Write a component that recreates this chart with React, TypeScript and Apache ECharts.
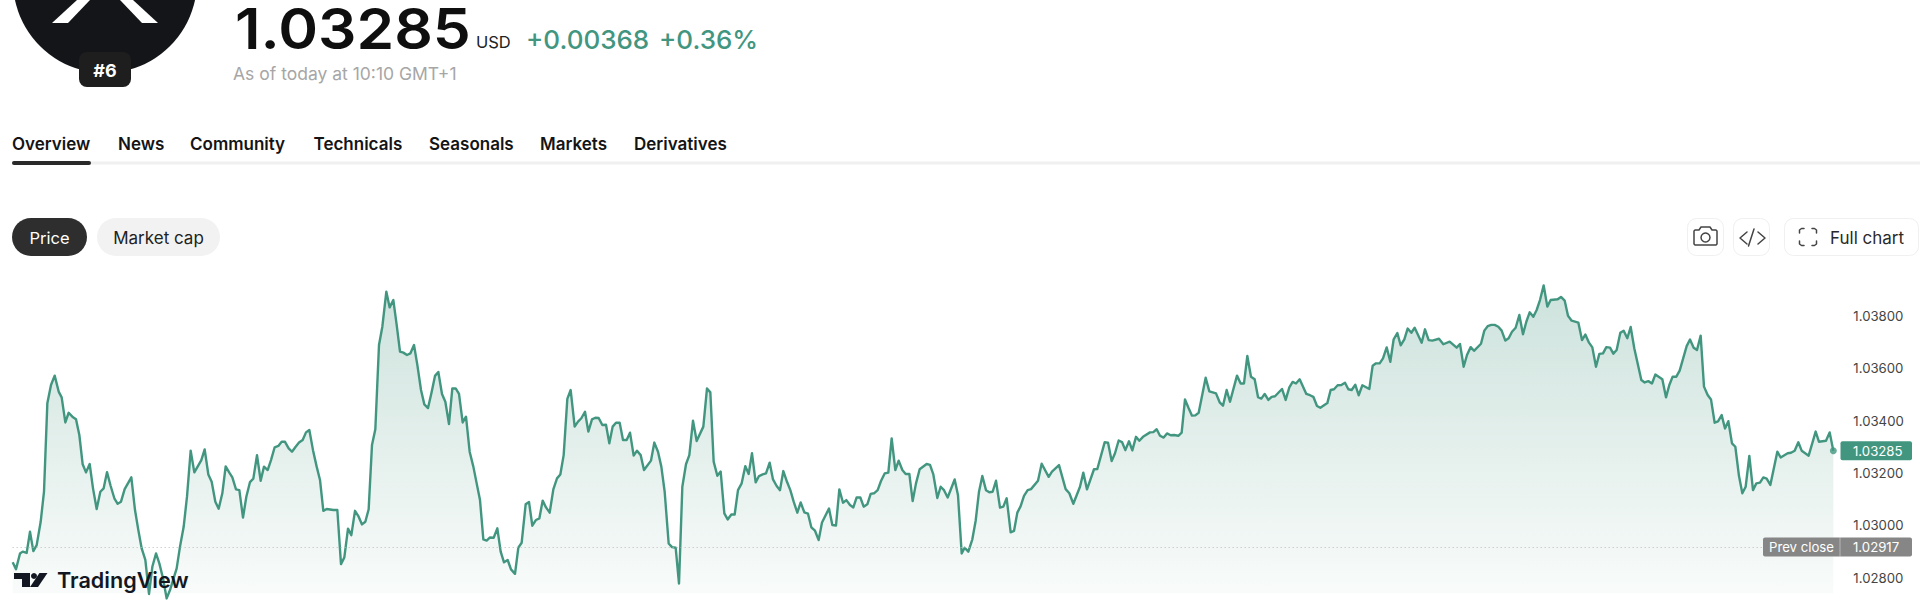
import React, { useEffect, useRef } from "react";
import * as echarts from "echarts";

const symbolRank = "#6";
const lastPrice = 1.03285;
const prevClose = 1.02917;
const currency = "USD";
const changeAbs = "+0.00368";
const changePct = "+0.36%";
const asOf = "As of today at 10:10 GMT+1";
const tabs = ["Overview", "News", "Community", "Technicals", "Seasonals", "Markets", "Derivatives"];
const yTicks = [1.028, 1.03, 1.032, 1.034, 1.036, 1.038];

type P = [number, number];
const segmentA: P[] = [[38,1.02858],[48,1.02832],[60,1.02892],[68,1.02899],[80,1.02894],[90,1.02975],[100,1.02901],[110,1.02924],[122,1.03013],[132,1.03128],[142,1.03466],[153,1.03536],[164,1.03572],[176,1.03511],[185,1.03489],[196,1.03393],[206,1.0343],[217,1.03415],[228,1.03405],[238,1.03345],[248,1.03233],[258,1.03202],[269,1.03234],[279,1.03141],[290,1.03062],[301,1.03128],[311,1.03141],[321,1.03203],[332,1.0315],[343,1.03103],[353,1.03082],[363,1.0309],[374,1.03138],[394,1.03183],[405,1.03058],[415,1.02981],[425,1.02911],[436,1.02867],[447,1.02737],[457,1.02841],[468,1.02892],[478,1.02854],[489,1.02797],[500,1.0272],[510,1.02752],[530,1.02835],[540,1.02918],[551,1.02994],[561,1.03109],[572,1.03285],[583,1.03202],[604,1.03249],[614,1.0329],[625,1.03194],[635,1.03166],[646,1.0309],[656,1.03063],[667,1.03122],[677,1.03225],[688,1.03201],[697,1.03183],[708,1.03137],[718,1.03134],[729,1.03029],[739,1.03109],[750,1.03165],[760,1.03178],[771,1.03268],[782,1.0317],[792,1.03224],[803,1.03211],[813,1.03249],[824,1.03298],[835,1.03303],[845,1.03319],[855,1.03319],[866,1.03294],[876,1.03281],[887,1.033],[897,1.03316],[908,1.03326],[918,1.03355],[928,1.03364],[939,1.03287],[950,1.03224],[960,1.03173],[970,1.03055],[980,1.03062],[1000,1.03058],[1012,1.03058],[1023,1.02851],[1033,1.02877],[1044,1.02987],[1054,1.02962],[1065,1.03055],[1075,1.03035],[1086,1.03003],[1096,1.03013],[1106,1.03061],[1116,1.03307],[1126,1.03367],[1137,1.03689],[1147,1.03759],[1159,1.03893],[1169,1.03833],[1180,1.03861],[1190,1.03766],[1200,1.03664],[1210,1.0366],[1221,1.03651],[1231,1.03657],[1242,1.03689],[1252,1.03613],[1263,1.03517],[1273,1.03462],[1284,1.03448],[1294,1.03504],[1305,1.03571],[1315,1.03586],[1326,1.03502],[1336,1.03472],[1347,1.03387],[1357,1.03523],[1367,1.03523],[1377,1.03502],[1388,1.03393],[1398,1.03415],[1409,1.03281],[1420,1.03224],[1430,1.0316],[1440,1.03096]];
const segmentB: P[] = [[1450,1.02946],[1460,1.02941],[1470,1.02953],[1481,1.02952],[1492,1.02988],[1502,1.02899],[1512,1.02858],[1523,1.02867],[1533,1.02831],[1545,1.02814],[1555,1.02914],[1565,1.02933],[1577,1.0308],[1587,1.03089],[1597,1.02998],[1608,1.0302],[1618,1.03026],[1628,1.03094],[1638,1.03068],[1649,1.03048],[1660,1.03137],[1671,1.03179],[1681,1.03194],[1691,1.03268],[1702,1.03483],[1712,1.03517],[1724,1.03377],[1734,1.03396],[1744,1.03409],[1755,1.03434],[1765,1.03358],[1776,1.03405],[1786,1.03411],[1796,1.0341],[1807,1.03383],[1818,1.03384],[1828,1.03313],[1838,1.03377],[1848,1.03392],[1859,1.03392],[1869,1.03326],[1880,1.03326],[1890,1.03354],[1901,1.03266],[1911,1.03285],[1922,1.03268],[1932,1.03211],[1953,1.03247],[1963,1.03316],[1974,1.03281],[1984,1.03224],[1994,1.03128],[2006,1.0293],[2016,1.02916],[2027,1.02914],[2037,1.02777],[2047,1.03147],[2058,1.03233],[2068,1.03268],[2079,1.034],[2090,1.03322],[2110,1.03377],[2121,1.03523],[2131,1.03508],[2141,1.03243],[2152,1.03189],[2162,1.03205],[2173,1.03045],[2183,1.03022],[2194,1.03041],[2204,1.03041],[2214,1.03134],[2225,1.0316],[2236,1.03226],[2246,1.03196],[2256,1.03275],[2267,1.03164],[2277,1.03188],[2288,1.03194],[2298,1.03198],[2309,1.03239],[2319,1.03175],[2330,1.0315],[2340,1.03134],[2350,1.03207],[2361,1.03166],[2371,1.03134],[2381,1.0309],[2392,1.03048],[2402,1.03087],[2413,1.03049],[2424,1.03044],[2434,1.02992],[2445,1.02979],[2456,1.02943],[2466,1.0301],[2487,1.03064],[2497,1.03001],[2508,1.02999],[2518,1.03137],[2529,1.03086],[2539,1.03096],[2550,1.03077],[2560,1.03068],[2570,1.03106],[2581,1.03106],[2591,1.03071],[2602,1.0308],[2612,1.0312],[2622,1.03122],[2633,1.03134],[2643,1.03169],[2654,1.03198],[2665,1.03201],[2675,1.03332],[2686,1.03211],[2696,1.03247],[2707,1.03211],[2717,1.03196],[2728,1.03196],[2738,1.03092],[2748,1.0316],[2759,1.03214],[2780,1.03234],[2790,1.03231],[2800,1.03194],[2812,1.03104],[2822,1.03147],[2832,1.03134],[2843,1.03106],[2864,1.03175],[2874,1.03115]];
const segmentC: P[] = [[2885,1.02892],[2894,1.02914],[2905,1.02899],[2917,1.02946],[2927,1.03017],[2937,1.03128],[2947,1.03188],[2958,1.03134],[2968,1.03126],[2978,1.03128],[2988,1.0317],[3000,1.03067],[3010,1.03071],[3020,1.03103],[3032,1.02973],[3042,1.02978],[3052,1.03048],[3062,1.03073],[3072,1.03112],[3083,1.03134],[3093,1.03138],[3114,1.0317],[3125,1.03235],[3146,1.03185],[3156,1.03205],[3177,1.0323],[3197,1.03138],[3208,1.03122],[3220,1.03082],[3240,1.03147],[3250,1.03201],[3261,1.03137],[3282,1.03214],[3292,1.03215],[3314,1.03317],[3324,1.03316],[3335,1.03245],[3345,1.03275],[3356,1.03324],[3366,1.03318],[3376,1.03287],[3387,1.03321],[3397,1.03286],[3408,1.03338],[3418,1.03323],[3429,1.03338],[3450,1.03355],[3460,1.03356],[3470,1.03367],[3480,1.03342],[3491,1.03335],[3501,1.03351],[3512,1.03344],[3522,1.03345],[3535,1.03342],[3545,1.03354],[3555,1.03481],[3566,1.03447],[3576,1.03419],[3586,1.0342],[3596,1.0343],[3617,1.03564],[3628,1.03512],[3648,1.03504],[3659,1.0347],[3669,1.03457],[3680,1.03517],[3690,1.03472],[3711,1.03572],[3722,1.03542],[3732,1.03542],[3742,1.03647],[3753,1.03568],[3764,1.03558],[3774,1.0349],[3784,1.03484],[3794,1.03502],[3805,1.03479],[3815,1.03491],[3825,1.03493],[3846,1.03521],[3857,1.03479],[3868,1.03527],[3878,1.03548],[3888,1.03542],[3899,1.03558],[3919,1.03502],[3930,1.03497],[3940,1.03491],[3951,1.03456],[3961,1.03449],[3982,1.03467],[3992,1.03517],[4002,1.0352],[4013,1.03535],[4024,1.03536],[4035,1.03545],[4045,1.0352],[4055,1.03517],[4066,1.03537],[4076,1.03497],[4087,1.03535],[4108,1.03521],[4118,1.0361],[4128,1.03619],[4139,1.03619],[4149,1.03638],[4160,1.0368],[4171,1.03625],[4181,1.03711],[4192,1.03735],[4202,1.03688],[4213,1.03711],[4223,1.03752],[4234,1.03736],[4244,1.03755],[4265,1.03698],[4275,1.03749],[4286,1.03708],[4297,1.03706],[4317,1.03713]];
const segmentD: P[] = [[4330,1.03692],[4349,1.03702],[4370,1.03679],[4380,1.03693],[4391,1.03606],[4401,1.03651],[4412,1.03681],[4422,1.03667],[4443,1.03694],[4453,1.03744],[4463,1.03761],[4474,1.03766],[4484,1.03766],[4495,1.03759],[4505,1.03744],[4516,1.03706],[4526,1.03715],[4536,1.0374],[4547,1.03755],[4558,1.03804],[4569,1.0373],[4579,1.03778],[4589,1.03814],[4600,1.03797],[4610,1.03823],[4620,1.03861],[4631,1.03917],[4642,1.03836],[4652,1.03861],[4673,1.03864],[4683,1.03873],[4694,1.03859],[4704,1.03801],[4715,1.03782],[4735,1.03775],[4746,1.03708],[4756,1.03729],[4767,1.03698],[4777,1.0368],[4788,1.03606],[4798,1.03655],[4809,1.03657],[4819,1.03681],[4830,1.03679],[4840,1.03656],[4850,1.0367],[4861,1.03736],[4871,1.03744],[4882,1.03715],[4892,1.03758],[4903,1.03676],[4924,1.03555],[4934,1.03546],[4945,1.03551],[4956,1.03542],[4966,1.03576],[4987,1.03558],[4998,1.03489],[5008,1.03536],[5018,1.03568],[5029,1.03568],[5039,1.03591],[5060,1.03685],[5070,1.0371],[5081,1.03679],[5091,1.0367],[5102,1.03725],[5112,1.0353],[5123,1.03498],[5133,1.03481],[5144,1.03392],[5154,1.03397],[5165,1.03421],[5175,1.0337],[5185,1.03398],[5196,1.03313],[5206,1.033],[5217,1.03188],[5227,1.03122],[5237,1.03147],[5248,1.03265],[5259,1.03134],[5269,1.0316],[5280,1.03163],[5290,1.03183],[5300,1.03178],[5311,1.03154],[5332,1.03281],[5342,1.03259],[5363,1.03275],[5373,1.03277],[5384,1.03285],[5395,1.03317],[5405,1.03285],[5426,1.03266],[5447,1.03358],[5457,1.03319],[5478,1.03323],[5489,1.03355],[5500,1.03285]];

const series: P[] = [...segmentA, ...segmentB, ...segmentC, ...segmentD];
const FONT = "Inter";
const GREEN = "#429680";

function txt(x: number, y: number, text: string, fontSize: number, fill: string, fontWeight: any = 400, align = "left", z = 100) {
  return { type: "text", x, y, z, silent: true, style: { text, fontFamily: FONT, fontSize, fontWeight, fill, align, verticalAlign: "middle" } };
}
function box(x: number, y: number, width: number, height: number, r: number, fill: string, stroke?: string, z = 99) {
  return { type: "rect", z, silent: true, shape: { x, y, width, height, r }, style: { fill, stroke: stroke ?? "none", lineWidth: stroke ? 1 : 0 } };
}
function poly(points: number[][], stroke: string, lineWidth = 1.5) {
  return { type: "polyline", z: 100, silent: true, shape: { points }, style: { stroke, lineWidth, fill: "none", lineCap: "round", lineJoin: "round" } };
}
function fillPoly(points: number[][], fill: string) {
  return { type: "polygon", z: 100, silent: true, shape: { points }, style: { fill } };
}

const tabX = [12, 118, 190, 313.5, 429, 540, 634];

function chrome(tagY: number, prevY: number) {
  const ic = "#444444";
  return [
    // Coin logo
    { type: "circle", z: 90, silent: true, shape: { cx: 105, cy: -19, r: 92 }, style: { fill: "#131518" } },
    fillPoly([[77, 0], [90, 0], [68, 23], [52, 23]], "#ffffff"),
    fillPoly([[120, 0], [133, 0], [158, 23], [142, 23]], "#ffffff"),
    box(79, 52, 52, 35, 8, "#1e1e1e"),
    txt(105, 70, symbolRank, 18, "#ffffff", 700, "center"),
    // Headline
    { ...txt(235, 28.5, lastPrice.toFixed(5), 56.5, "#0f0f0f", 600), scaleX: 1.07 },
    txt(476, 42, currency, 16.5, "#222222", 400),
    txt(526, 39, changeAbs, 26, GREEN, 500),
    txt(659, 39, changePct, 26, GREEN, 500),
    txt(233, 73.5, asOf, 17.5, "#a6a6a6", 400),
    // Tabs
    ...tabs.map((t, i) => txt(tabX[i], 144, t, 17, "#141414", 600)),
    box(12, 161.5, 1908, 3, 0, "#f0f0f0"),
    box(12, 161, 79, 4, 2, "#2a2a2a", undefined, 100),
    // Pills
    box(12, 218, 75, 38, 19, "#2e2e2e"),
    txt(49.5, 237.5, "Price", 16.5, "#ffffff", 400, "center"),
    box(97, 218, 123, 38, 19, "#f2f2f2"),
    txt(158.5, 237.5, "Market cap", 17, "#222222", 400, "center"),
    // Toolbar
    box(1687.5, 218.5, 36, 37, 9, "#ffffff", "#f0f0f0"),
    box(1733.5, 218.5, 36, 37, 9, "#ffffff", "#f0f0f0"),
    box(1784.5, 218.5, 134, 37, 9, "#ffffff", "#f0f0f0"),
    poly([[1695, 230], [1699, 230], [1701, 227], [1710, 227], [1712, 230], [1716, 230], [1717, 231], [1717, 244], [1716, 245], [1695, 245], [1694, 244], [1694, 231], [1695, 230]], ic),
    { type: "circle", z: 100, silent: true, shape: { cx: 1705.5, cy: 237.5, r: 4.5 }, style: { fill: "none", stroke: ic, lineWidth: 1.5 } },
    poly([[1747, 232], [1740, 238], [1747, 244]], ic),
    poly([[1754, 229], [1748.5, 246]], ic),
    poly([[1758, 232], [1765, 238], [1758, 244]], ic),
    poly([[1799.5, 233], [1799.5, 230], [1801.5, 228.5], [1804, 228.5]], ic),
    poly([[1812, 228.5], [1814.5, 228.5], [1816.5, 230], [1816.5, 233]], ic),
    poly([[1799.5, 241], [1799.5, 244], [1801.5, 245.5], [1804, 245.5]], ic),
    poly([[1812, 245.5], [1814.5, 245.5], [1816.5, 244], [1816.5, 241]], ic),
    txt(1830, 237.5, "Full chart", 17, "#2a2a2a", 400),
    // Price tags
    box(1840.5, tagY - 9.5, 71.5, 19, 2, GREEN),
    txt(1853, tagY, lastPrice.toFixed(5), 13.2, "#ffffff", 400),
    box(1763, prevY - 9.5, 149, 19, 2, "#868686"),
    { type: "line", z: 100, silent: true, shape: { x1: 1840, y1: prevY - 9.5, x2: 1840, y2: prevY + 9.5 }, style: { stroke: "#ffffff", opacity: 0.4, lineWidth: 1 } },
    txt(1769, prevY, "Prev close", 13.2, "#ffffff", 400),
    txt(1853, prevY, prevClose.toFixed(5), 13.2, "#ffffff", 400),
    // TradingView mark
    box(14, 573, 16, 6, 0, "#131722"),
    box(22, 573, 8, 14, 0, "#131722"),
    { type: "circle", z: 100, silent: true, shape: { cx: 34, cy: 576, r: 3 }, style: { fill: "#131722" } },
    fillPoly([[39.5, 573], [47.5, 573], [38, 587], [30, 587]], "#131722"),
    txt(57, 580, "TradingView", 21.6, "#131722", 600),
  ];
}

export default function App() {
  const ref = useRef<HTMLDivElement>(null);
  useEffect(() => {
    document.body.style.margin = "0";
    const chart = echarts.init(ref.current!, null, { renderer: "svg" });
    chart.setOption({
      animation: false,
      backgroundColor: "#ffffff",
      grid: { left: 12.67, right: 86.67, top: 280, height: 313.3 },
      xAxis: { type: "value", min: 38, max: 5500, show: false },
      yAxis: {
        type: "value",
        position: "right",
        min: 1.027396,
        max: 1.039377,
        axisLine: { show: false },
        axisTick: { show: false },
        splitLine: { show: false },
        axisLabel: {
          customValues: yTicks,
          formatter: (v: number) => v.toFixed(5),
          margin: 20,
          color: "#444444",
          fontFamily: FONT,
          fontSize: 13.2,
        },
      },
      series: [
        {
          type: "line",
          data: series,
          symbol: "none",
          clip: false,
          z: 3,
          lineStyle: { color: GREEN, width: 2.4, join: "round" },
          areaStyle: {
            origin: "start",
            opacity: 1,
            color: new echarts.graphic.LinearGradient(0, 0, 0, 1, [
              { offset: 0, color: "rgba(63,145,122,0.26)" },
              { offset: 1, color: "rgba(63,145,122,0.03)" },
            ]),
          },
          markLine: {
            silent: true,
            symbol: "none",
            animation: false,
            precision: 5,
            label: { show: false },
            lineStyle: { type: [1, 3], color: "#bbbbbb", width: 1 },
            data: [{ yAxis: prevClose }],
          },
        },
        {
          type: "scatter",
          data: [[series[series.length - 1][0], lastPrice]],
          symbolSize: 7,
          clip: false,
          z: 4,
          itemStyle: { color: GREEN },
        },
      ],
    });
    const tagY = chart.convertToPixel({ yAxisIndex: 0 }, lastPrice) as number;
    const prevY = chart.convertToPixel({ yAxisIndex: 0 }, prevClose) as number;
    chart.setOption({ graphic: { elements: chrome(tagY, prevY) } });
    return () => chart.dispose();
  }, []);
  return <div ref={ref} style={{ width: 1920, height: 600 }} />;
}
